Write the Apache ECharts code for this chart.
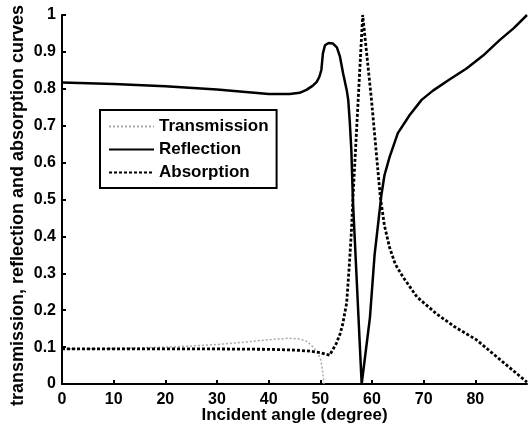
<!DOCTYPE html>
<html>
<head>
<meta charset="utf-8">
<script src="https://cdn.jsdelivr.net/npm/echarts@6/dist/echarts.min.js"></script>
<style>
  html, body { margin: 0; padding: 0; background: #fff; }
  #chart { width: 528px; height: 434px; }
</style>
</head>
<body>
<div id="chart"></div>
<script>
// angle (degree) and curve values
const reflAngle = [0, 10, 20, 30, 35, 40, 44.1, 46, 47.3, 48.5, 49.3, 49.8, 50.2, 50.5, 50.9, 51.6, 52.4, 53.2, 53.8, 54.4, 55.1, 55.4, 55.7, 56.0, 56.3, 58.0, 59.6, 60.5, 61.8, 62.4, 63.4, 65.0, 67.3, 69.6, 71.8, 75, 78.3, 81.5, 84.7, 87.5, 90];
const reflValue = [0.817, 0.813, 0.807, 0.798, 0.792, 0.786, 0.786, 0.789, 0.797, 0.808, 0.819, 0.832, 0.851, 0.896, 0.918, 0.924, 0.923, 0.912, 0.887, 0.842, 0.797, 0.77, 0.71, 0.634, 0.5, 0.0, 0.18, 0.35, 0.51, 0.565, 0.615, 0.68, 0.729, 0.77, 0.795, 0.825, 0.855, 0.89, 0.932, 0.965, 1.0];

const absAngle = [0, 10, 20, 30, 40, 45, 48, 50, 51, 51.8, 53.1, 53.8, 54.3, 55.1, 55.6, 56.0, 56.3, 58.2, 59.9, 61.6, 62.4, 63.4, 64.5, 66, 68.7, 72.5, 76, 80.2, 85.3, 90];
const absValue = [0.095, 0.095, 0.095, 0.095, 0.094, 0.092, 0.089, 0.085, 0.081, 0.078, 0.11, 0.135, 0.16, 0.22, 0.32, 0.41, 0.5, 1.0, 0.77, 0.508, 0.43, 0.37, 0.325, 0.29, 0.236, 0.19, 0.155, 0.12, 0.06, 0.005];

const transAngle = [0, 10, 15, 20, 25, 30, 35, 40, 44, 46, 47.5, 48.6, 49.5, 50.1, 50.4, 50.6, 50.7];
const transValue = [0.095, 0.096, 0.098, 0.1, 0.103, 0.107, 0.113, 0.12, 0.124, 0.122, 0.115, 0.1, 0.085, 0.065, 0.04, 0.015, 0];

const pairs = (xs, ys) => xs.map((x, i) => [x, ys[i]]);

const chart = echarts.init(document.getElementById("chart"));
const font = "Liberation Sans, Arial, sans-serif";

const axisCommon = {
  axisLine: { show: true, lineStyle: { color: "#000", width: 2 } },
  axisTick: { show: true, inside: true, length: 4, lineStyle: { color: "#000", width: 2 } },
  splitLine: { show: false },
  axisLabel: { color: "#000", fontSize: 16, fontWeight: "bold", fontFamily: font },
  nameMoveOverlap: false,
};

chart.setOption({
  animation: false,
  backgroundColor: "#fff",
  grid: { left: 62, right: 1, top: 15, bottom: 50 },
  xAxis: Object.assign({}, axisCommon, {
    type: "value",
    min: 0,
    max: 90,
    interval: 10,
    name: "Incident angle (degree)",
    nameLocation: "middle",
    nameGap: 23,
    nameTextStyle: { color: "#000", fontSize: 17, fontWeight: "bold", fontFamily: font },
    axisLabel: Object.assign({}, axisCommon.axisLabel, { showMaxLabel: false, margin: 8 }),
  }),
  yAxis: Object.assign({}, axisCommon, {
    type: "value",
    min: 0,
    max: 1,
    interval: 0.1,
    name: "transmission, reflection and absorption curves",
    nameLocation: "middle",
    nameGap: 35,
    nameTextStyle: { color: "#000", fontSize: 18, fontWeight: "bold", fontFamily: font, padding: [0, 12, 0, 0] },
    axisLabel: Object.assign({}, axisCommon.axisLabel, { margin: 6 }),
  }),
  legend: {
    orient: "vertical",
    left: 100,
    top: 110,
    padding: [8, 8, 7, 8],
    itemGap: 6,
    itemWidth: 45,
    itemHeight: 14,
    borderColor: "#000",
    borderWidth: 2,
    backgroundColor: "#fff",
    itemStyle: { opacity: 0 },
    textStyle: { color: "#000", fontSize: 17, fontWeight: "bold", fontFamily: font },
    data: ["Transmission", "Reflection", "Absorption"],
  },
  series: [
    {
      name: "Transmission",
      type: "line",
      symbol: "none",
      z: 1,
      data: pairs(transAngle, transValue),
      lineStyle: { color: "#a8a8a8", width: 1.5, type: [2, 2] },
      itemStyle: { color: "#a8a8a8" },
    },
    {
      name: "Reflection",
      type: "line",
      symbol: "none",
      z: 3,
      data: pairs(reflAngle, reflValue),
      lineStyle: { color: "#000", width: 2.5, type: "solid" },
      itemStyle: { color: "#000" },
    },
    {
      name: "Absorption",
      type: "line",
      symbol: "none",
      z: 2,
      data: pairs(absAngle, absValue),
      lineStyle: { color: "#000", width: 2.8, type: [3, 2] },
      itemStyle: { color: "#000" },
    },
  ],
});
</script>
</body>
</html>
